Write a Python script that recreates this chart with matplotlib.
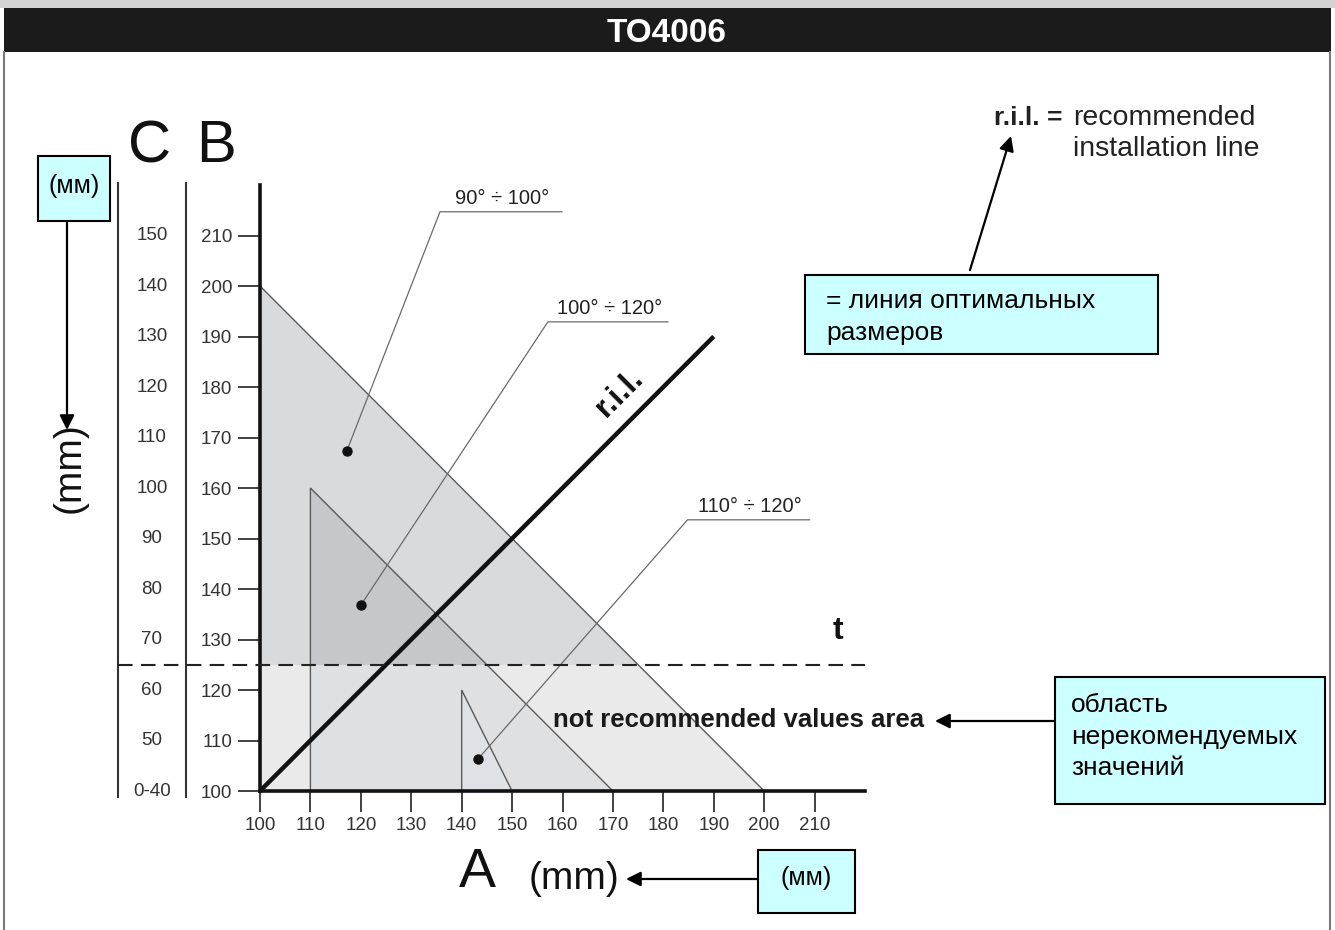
import matplotlib
matplotlib.use("Agg")
import matplotlib.pyplot as plt
from matplotlib import font_manager
from matplotlib.patches import Polygon, Rectangle
from matplotlib.lines import Line2D
import matplotlib.transforms as mtransforms

# ---------------- data ----------------
A_ticks = [100, 110, 120, 130, 140, 150, 160, 170, 180, 190, 200, 210]
B_ticks = [100, 110, 120, 130, 140, 150, 160, 170, 180, 190, 200, 210]
C_labels = ["0-40", "50", "60", "70", "80", "90", "100", "110", "120", "130", "140", "150"]

tri_90_100_x = [100, 100, 200]
tri_90_100_y = [100, 200, 100]
tri_100_120_x = [110, 110, 170]
tri_100_120_y = [100, 160, 100]
tri_110_120_x = [140, 140, 150]
tri_110_120_y = [100, 120, 100]

ril_x = [100, 190]
ril_y = [100, 190]
t_level = 125

zone_labels = ["90° ÷ 100°", "100° ÷ 120°", "110° ÷ 120°"]
zone_dot_x = [117.2, 120.0, 143.2]
zone_dot_y = [167.3, 136.8, 106.3]
zone_lbl_x0 = [135.7, 157.1, 184.8]
zone_lbl_x1 = [159.9, 180.9, 209.0]
zone_lbl_y = [214.7, 192.9, 153.7]

# ---------------- fonts ----------------
names = {f.name for f in font_manager.fontManager.ttflist}
SANS = "Liberation Sans" if "Liberation Sans" in names else "DejaVu Sans"
NARROW = "Liberation Sans Narrow" if "Liberation Sans Narrow" in names else None
plt.rcParams["font.family"] = [SANS, "DejaVu Sans"]

W, H = 1335, 930
fig = plt.figure(figsize=(W / 100, H / 100), dpi=100)
fig.patch.set_facecolor("white")


def P(x, y):
    return (x / W, 1 - y / H)


def ftext(x, y, s, **kw):
    fx, fy = P(x, y)
    return fig.text(fx, fy, s, **kw)


# ---------------- header & frame ----------------
fig.patches.append(Rectangle(P(0, 8), 1, 8 / H, transform=fig.transFigure,
                             facecolor="#d2d2d2", edgecolor="none", zorder=0))
fig.patches.append(Rectangle(P(4, 52), (1327) / W, 44 / H, transform=fig.transFigure,
                             facecolor="#1b1b1b", edgecolor="none", zorder=1))
ftext(667, 33, "TO4006", color="white", fontsize=24, fontweight="bold",
      ha="center", va="center")
for xx in (4, 1330):
    fig.add_artist(Line2D([xx / W, xx / W], [1 - 52 / H, 0], transform=fig.transFigure,
                          color="#7a7a7a", lw=1.5))

# ---------------- main axes ----------------
ax = fig.add_axes([260 / W, 1 - 791 / H, 605 / W, 606 / H])
ax.set_xlim(100, 220)
ax.set_ylim(100, 220)
ax.set_facecolor("none")
for s in ("top", "right"):
    ax.spines[s].set_visible(False)
for s in ("left", "bottom"):
    ax.spines[s].set_linewidth(2.6)
    ax.spines[s].set_color("#111111")
    ax.spines[s].set_zorder(10)

ax.set_xticks(A_ticks)
ax.set_yticks(B_ticks)
ax.set_xticklabels([str(v) for v in A_ticks])
ax.set_yticklabels([str(v) for v in B_ticks])
ax.tick_params(axis="x", direction="out", length=15, width=1.3, color="#333333",
               labelsize=13.5, labelcolor="#333333", pad=4)
ax.tick_params(axis="y", direction="out", length=16, width=1.3, color="#333333",
               labelsize=13.5, labelcolor="#333333", pad=4)

# triangles (fills)
ax.add_patch(Polygon(list(zip(tri_90_100_x, tri_90_100_y)), closed=True,
                     facecolor="#d9dadc", edgecolor="none", zorder=1))
ax.add_patch(Polygon(list(zip(tri_100_120_x, tri_100_120_y)), closed=True,
                     facecolor="#c6c7cb", edgecolor="none", zorder=2))
ax.add_patch(Polygon(list(zip(tri_110_120_x, tri_110_120_y)), closed=True,
                     facecolor="#c3cad1", edgecolor="none", zorder=3))
# not recommended area lightening
ax.add_patch(Rectangle((100, 100), 120, t_level - 100, facecolor="white",
                       alpha=0.45, edgecolor="none", zorder=4))
# triangle edges
for tx, ty in ((tri_90_100_x, tri_90_100_y), (tri_100_120_x, tri_100_120_y),
               (tri_110_120_x, tri_110_120_y)):
    ax.add_patch(Polygon(list(zip(tx, ty)), closed=True, fill=False,
                         edgecolor="#5a5a5a", lw=1.0, zorder=5))

# r.i.l. line
ax.plot(ril_x, ril_y, color="#111111", lw=3.2, zorder=8, solid_capstyle="butt")
ax.text(171.3, 178.8, "r.i.l.", rotation=45, rotation_mode="anchor", ha="center",
        va="center", fontsize=23, fontweight="bold", color="#111111", zorder=9)

# t dashed line (extends into C/B scale area)
blend = mtransforms.blended_transform_factory(fig.transFigure, ax.transData)
dash = Line2D([118 / W, 865 / W], [t_level, t_level], transform=blend,
              color="#222222", lw=1.5, dashes=(7, 4), zorder=7)
fig.add_artist(dash)
ax.text(214.6, 131.6, "t", fontsize=23, fontweight="bold", color="#111111",
        ha="center", va="center")

# zone labels with leader lines
for lbl, dx, dy, x0, x1, ly in zip(zone_labels, zone_dot_x, zone_dot_y,
                                  zone_lbl_x0, zone_lbl_x1, zone_lbl_y):
    ax.plot([dx, x0, x1], [dy, ly, ly], color="#6a6a6a", lw=0.9, zorder=9,
            clip_on=False)
    ax.plot([dx], [dy], "o", color="#111111", ms=6.5, zorder=10)
    ax.text((x0 + x1) / 2 + 0.3, ly + 0.7, lbl, ha="center", va="bottom", fontsize=14.5,
            color="#222222", clip_on=False)

ax.text(195.0, 114.0, "not recommended values area", fontsize=18.5, fontweight="bold",
        color="#1a1a1a", ha="center", va="center", zorder=9, clip_on=False)

# ---------------- C and B scales ----------------
for xx in (118, 186):
    fig.add_artist(Line2D([xx / W, xx / W], [1 - 183 / H, 1 - 797 / H],
                          transform=fig.transFigure, color="#333333", lw=1.5))
for b, c in zip(B_ticks, C_labels):
    fig.text(152 / W, b, c, transform=blend, ha="center", va="center",
             fontsize=13.5, color="#333333")

ftext(150, 147, "C", fontsize=43, ha="center", va="center", color="#111111")
ftext(216, 147, "B", fontsize=43, ha="center", va="center", color="#111111")
ftext(477, 873, "A", fontsize=40, ha="center", va="center", color="#111111")
ftext(574, 879, "(mm)", fontsize=28, ha="center", va="center", color="#111111")
ftext(70, 468, "(mm)", fontsize=28, ha="center", va="center", rotation=90,
      color="#111111")

# ---------------- Russian annotation boxes ----------------
CYAN = "#ccffff"


def box(x0, y0, x1, y1):
    fx, fy = P(x0, y1)
    fig.patches.append(Rectangle((fx, fy), (x1 - x0) / W, (y1 - y0) / H,
                                 transform=fig.transFigure, facecolor=CYAN,
                                 edgecolor="black", lw=1.5, zorder=5))


def arrow(x0, y0, x1, y1):
    fig.add_artist(matplotlib.patches.FancyArrowPatch(
        P(x0, y0), P(x1, y1), transform=fig.transFigure, arrowstyle="-|>",
        mutation_scale=22, color="black", lw=1.6, shrinkA=0, shrinkB=0, zorder=6))


box(38, 156, 110, 221)
ftext(74, 186, "(мм)", fontsize=18, ha="center", va="center", zorder=7)
arrow(67, 221, 67, 430)

box(758, 850, 855, 913)
ftext(806, 878, "(мм)", fontsize=18, ha="center", va="center", zorder=7)
arrow(758, 879, 626, 879)

box(805, 275, 1158, 354)
ftext(826, 301, "= линия оптимальных", fontsize=19, ha="left", va="center", zorder=7)
ftext(826, 333, "размеров", fontsize=19, ha="left", va="center", zorder=7)
arrow(970, 270, 1011, 136)

box(1055, 677, 1325, 804)
if NARROW:
    kw = dict(fontsize=21, family=NARROW)
else:
    kw = dict(fontsize=19)
for yy, s in zip((705, 737, 768), ("область", "нерекомендуемых", "значений")):
    ftext(1071, yy, s, ha="left", va="center", zorder=7, **kw)
arrow(1055, 721, 935, 721)

# r.i.l. legend
ftext(1062, 118, "r.i.l. =", fontsize=19, fontweight="bold", ha="right", va="center",
      color="#222222")
ftext(1073, 118, "recommended", fontsize=20.5, ha="left", va="center", color="#222222")
ftext(1073, 149, "installation line", fontsize=20.5, ha="left", va="center",
      color="#222222")

fig.savefig("out.png", dpi=100)
